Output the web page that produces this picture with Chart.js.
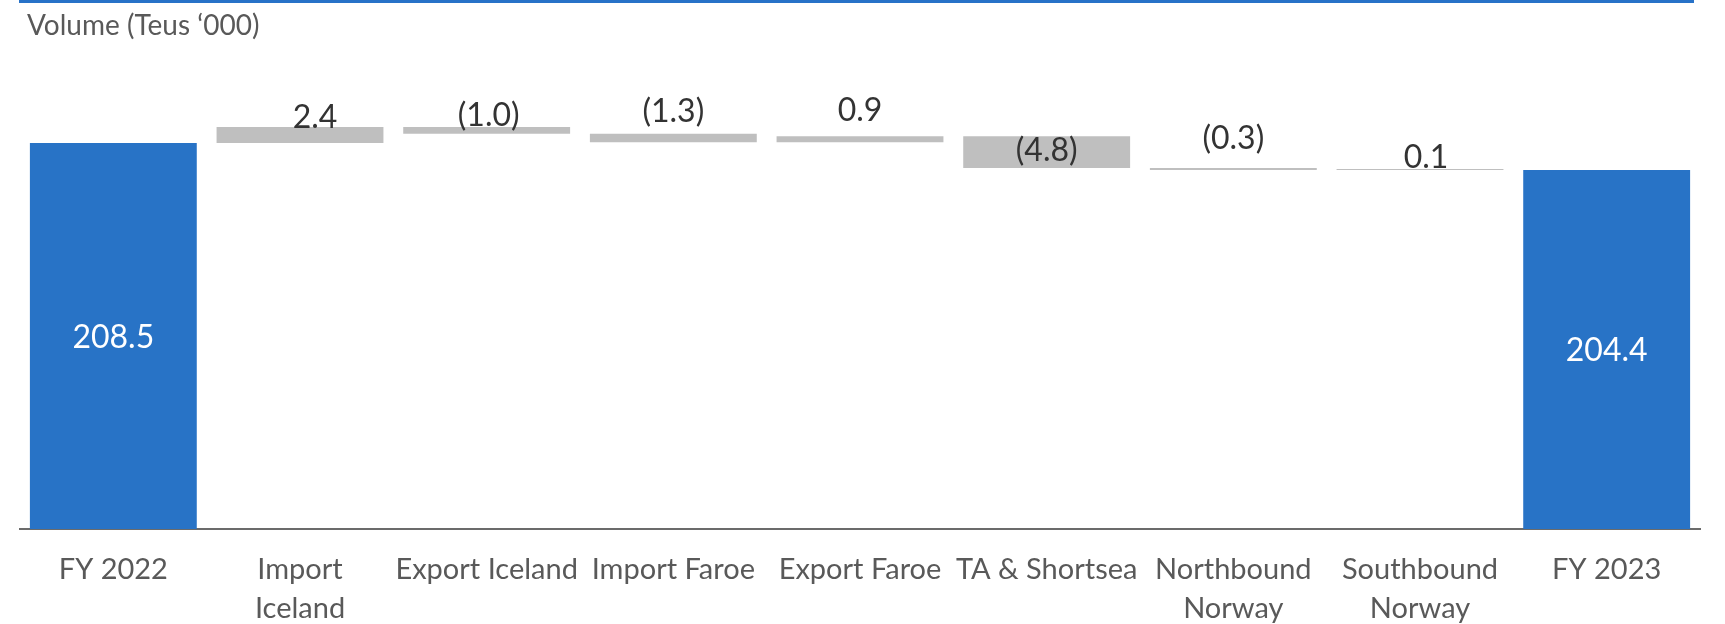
<!DOCTYPE html>
<html><head><meta charset="utf-8">
<script src="https://cdn.jsdelivr.net/npm/chart.js@4.4.1/dist/chart.umd.min.js"></script>
<style>html,body{margin:0;padding:0;background:#fff;overflow:hidden}#wrap{position:relative;width:1725px;height:624px}</style>
</head><body><div id="wrap"><canvas id="c" width="1725" height="624"></canvas></div>
<script>
// ---- data ----
const categories = [['FY 2022'], ['Import', 'Iceland'], ['Export Iceland'], ['Import Faroe'], ['Export Faroe'], ['TA & Shortsea'], ['Northbound', 'Norway'], ['Southbound', 'Norway'], ['FY 2023']];
const startTotal = 208.5;
const changes = [2.4, -1.0, -1.3, 0.9, -4.8, -0.3, 0.1];
const endTotal = 204.4;
const axisMin = 150;
const axisMax = 215;
const titleText = 'Volume (Teus \u2018000)';

// ---- label placement (styles, px) ----
const deltaLabelBaseline = [1, -1, -12, -15, 25, -19, -1]; // baseline relative to bar top
const deltaLabelDx = [15, 2, 0, 0, 0, 0, 6];

// build the floating-bar table for the waterfall
const ranges = [[axisMin, startTotal]];
let run = startTotal;
changes.forEach(c => {
  const next = Math.round((run + c) * 10) / 10;
  ranges.push([run, next]);
  run = next;
});
ranges.push([axisMin, endTotal]);

const BLUE = '#2873C6', GREY = '#BFBFBF';
const colors = ranges.map((r, i) => (i === 0 || i === ranges.length - 1) ? BLUE : GREY);
const fmt = v => v < 0 ? '(' + Math.abs(v).toFixed(1) + ')' : v.toFixed(1);

const decor = {
  id: 'decor',
  beforeDraw(chart) {
    const ctx = chart.ctx;
    ctx.save();
    ctx.fillStyle = '#2872C8';
    ctx.fillRect(19, 0, 1675, 3);
    ctx.font = '28px Lato';
    ctx.fillStyle = '#595959';
    ctx.textBaseline = 'alphabetic';
    ctx.textAlign = 'left';
    ctx.fillText(titleText, 27, 35);
    ctx.restore();
  },
  afterDatasetsDraw(chart) {
    const ctx = chart.ctx;
    const meta = chart.getDatasetMeta(0);
    ctx.save();
    ctx.font = '32px Lato';
    ctx.textAlign = 'center';
    ctx.textBaseline = 'alphabetic';
    meta.data.forEach((el, i) => {
      const top = Math.min(el.y, el.base), bot = Math.max(el.y, el.base);
      if (i === 0 || i === meta.data.length - 1) {
        const v = i === 0 ? startTotal : endTotal;
        ctx.fillStyle = '#ffffff';
        ctx.fillText(v.toFixed(1), el.x, (top + bot) / 2 + 12);
      } else {
        ctx.fillStyle = '#333333';
        ctx.fillText(fmt(changes[i - 1]), el.x + deltaLabelDx[i - 1], top + deltaLabelBaseline[i - 1]);
      }
    });
    ctx.restore();
  }
};

function draw() {
  new Chart(document.getElementById('c'), {
    type: 'bar',
    data: {
      labels: categories,
      datasets: [{
        data: ranges,
        backgroundColor: colors,
        borderWidth: 0,
        barPercentage: 0.894,
        categoryPercentage: 1.0,
        minBarLength: 1
      }]
    },
    options: {
      responsive: false,
      animation: false,
      layout: { padding: { left: 20, right: 25, top: 100, bottom: 0 } },
      plugins: { legend: { display: false }, tooltip: { enabled: false }, title: { display: false } },
      scales: {
        x: {
          z: 1,
          grid: { display: false, drawTicks: false },
          border: { display: true, color: '#6b6b6b', width: 2 },
          ticks: { color: '#595959', font: { family: 'Lato', size: 29, lineHeight: 1.345 }, padding: 21, maxRotation: 0, autoSkip: false },
          afterFit(s) { s.height = 95; }
        },
        y: { display: false, min: axisMin, max: axisMax }
      }
    },
    plugins: [decor]
  });
}
(document.fonts ? Promise.all([document.fonts.load('28px Lato'), document.fonts.load('32px Lato')]) : Promise.resolve()).then(draw, draw);
</script>
</body></html>
